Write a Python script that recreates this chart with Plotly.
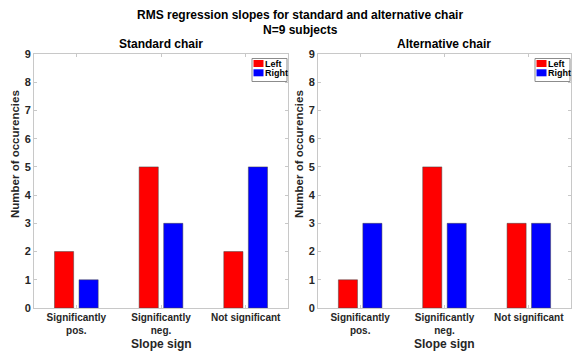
import plotly.graph_objects as go

# Slope-sign categories and counts per side, for each chair
categories = ["Significantly<br>pos.", "Significantly<br>neg.", "Not significant"]
positions = [1, 2, 3]
series_names = ["Left", "Right"]
series_colors = ["#ff0000", "#0000ff"]
standard_left = [2, 5, 2]
standard_right = [1, 3, 5]
alternative_left = [1, 5, 3]
alternative_right = [3, 3, 3]
y_ticks = [0, 1, 2, 3, 4, 5, 6, 7, 8, 9]

W, H = 572, 356
FONT = "Liberation Sans, Arial, Helvetica, sans-serif"
AXIS_GREY = "#c8c8c8"
TEXT = "#262626"

fig = go.Figure()

panels = [
    ("x", "y", standard_left, standard_right),
    ("x2", "y2", alternative_left, alternative_right),
]
for xa, ya, left, right in panels:
    for name, color, vals in zip(series_names, series_colors, [left, right]):
        fig.add_trace(go.Bar(
            x=positions, y=vals, name=name, xaxis=xa, yaxis=ya,
            showlegend=False,
            marker=dict(color=color, line=dict(color="#444444", width=0.5)),
        ))


def px_x(p):
    return p / W


def px_y(p):
    return 1 - p / H


dom_y = [px_y(308), px_y(54)]
dom_x1 = [px_x(34), px_x(288)]
dom_x2 = [px_x(318), px_x(571)]

xaxis_common = dict(
    range=[0.5, 3.5], tickvals=positions, ticktext=categories,
    ticks="inside", ticklen=3, tickcolor=AXIS_GREY,
    showline=True, linecolor=AXIS_GREY, linewidth=1, mirror="ticks",
    showgrid=False, zeroline=False, fixedrange=True, automargin=False,
    tickfont=dict(family=FONT, size=10, color=TEXT, weight="bold"),
)
yaxis_common = dict(
    range=[0, 9], tickvals=y_ticks,
    ticks="inside", ticklen=3, tickcolor=AXIS_GREY,
    showline=True, linecolor=AXIS_GREY, linewidth=1, mirror="ticks",
    showgrid=False, zeroline=False, fixedrange=True, automargin=False,
    tickfont=dict(family=FONT, size=11, color=TEXT, weight="bold"),
)

fig.update_layout(
    width=W, height=H,
    margin=dict(l=0, r=0, t=0, b=0, autoexpand=False),
    paper_bgcolor="white", plot_bgcolor="white",
    barmode="group", bargap=0.42, bargroupgap=0.22,
    xaxis=dict(domain=dom_x1, anchor="y", **xaxis_common),
    yaxis=dict(domain=dom_y, anchor="x", **yaxis_common),
    xaxis2=dict(domain=dom_x2, anchor="y2", **xaxis_common),
    yaxis2=dict(domain=dom_y, anchor="x2", **yaxis_common),
    showlegend=False,
    font=dict(family=FONT, color=TEXT),
)

title_font = dict(family=FONT, size=12, color="black", weight="bold")
xlabel_font = dict(family=FONT, size=12, color=TEXT, weight="bold")
ylabel_font = dict(family=FONT, size=11.5, color=TEXT, weight="bold")
legend_font = dict(family=FONT, size=9, color="black", weight="bold")

annotations = [
    dict(text="RMS regression slopes for standard and alternative chair",
         x=px_x(300), y=px_y(15), font=title_font),
    dict(text="N=9 subjects", x=px_x(300), y=px_y(30), font=title_font),
    dict(text="Standard chair", x=px_x(161), y=px_y(44), font=title_font),
    dict(text="Alternative chair", x=px_x(444), y=px_y(44), font=title_font),
    dict(text="Slope sign", x=px_x(161), y=px_y(344), font=xlabel_font),
    dict(text="Slope sign", x=px_x(444), y=px_y(344), font=xlabel_font),
    dict(text="Number of occurencies", x=px_x(15), y=px_y(154),
         textangle=-90, font=ylabel_font),
    dict(text="Number of occurencies", x=px_x(299), y=px_y(154),
         textangle=-90, font=ylabel_font),
]

# Compact boxed legend in the top-right corner of each panel
for axis_right in (288, 571):
    bx0, bx1 = axis_right - 36, axis_right - 1
    by0, by1 = 58.5, 81.5
    fig.add_shape(type="rect", xref="paper", yref="paper",
                  x0=px_x(bx0), x1=px_x(bx1), y0=px_y(by1), y1=px_y(by0),
                  line=dict(color="#8c8c8c", width=1), fillcolor="white")
    for i, (name, color) in enumerate(zip(series_names, series_colors)):
        row_top = 60 + i * 9.3
        fig.add_shape(type="rect", xref="paper", yref="paper",
                      x0=px_x(bx0 + 1.5), x1=px_x(bx0 + 11.5),
                      y0=px_y(row_top + 7), y1=px_y(row_top),
                      line=dict(width=0), fillcolor=color)
        annotations.append(dict(text=name, x=px_x(bx0 + 12), y=px_y(row_top + 4),
                                xanchor="left", font=legend_font))

for a in annotations:
    a.setdefault("xanchor", "center")
    fig.add_annotation(xref="paper", yref="paper", showarrow=False,
                       yanchor="middle", borderpad=0, **a)

fig.write_html("out.html")
